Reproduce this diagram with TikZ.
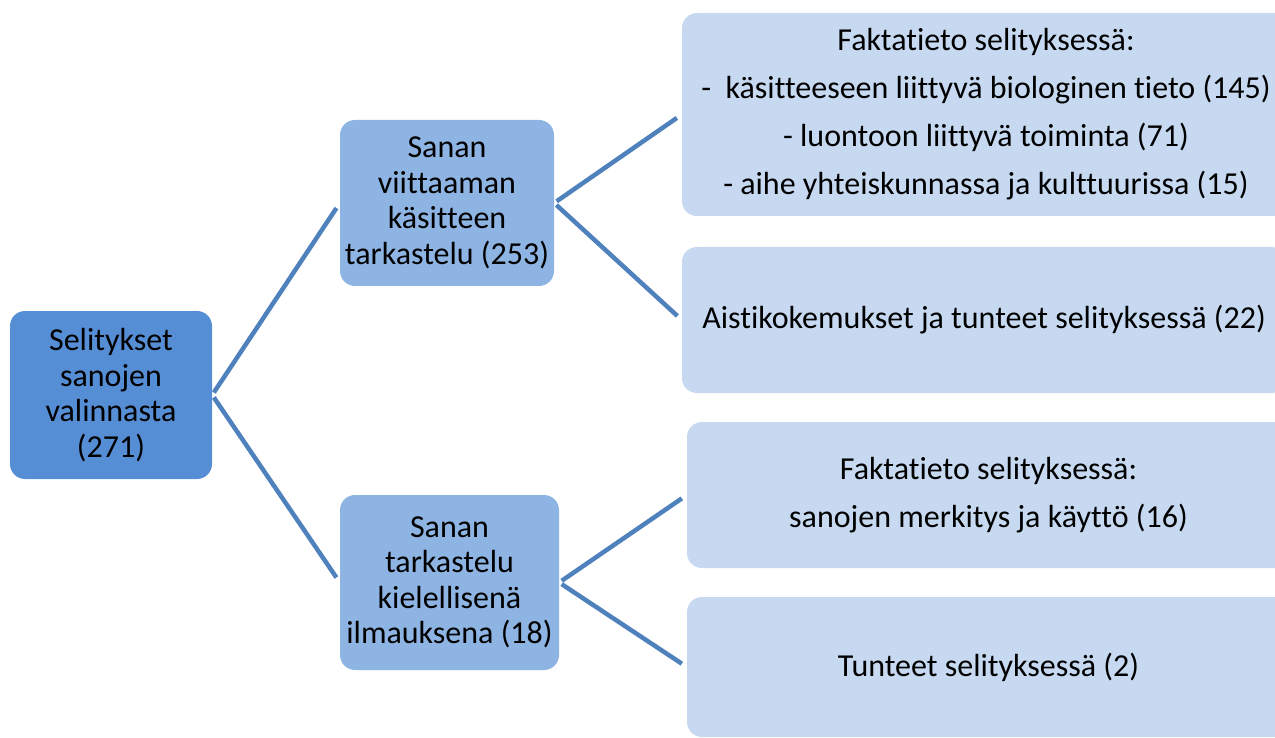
\documentclass[tikz,border=0pt]{standalone}
\usepackage{fontspec}
\setmainfont{Carlito}[Ligatures={NoCommon}]
\definecolor{rootc}{HTML}{558ED5}
\definecolor{midc}{HTML}{8EB4E3}
\definecolor{leafc}{HTML}{C6D9F1}
\definecolor{linec}{HTML}{4F81BD}
\tikzset{
  box/.style={rectangle, rounded corners=15pt, draw=none, align=center, inner sep=0pt,
    font=\fontsize{32}{35.5}\selectfont},
  rootbox/.style={box, fill=rootc},
  midbox/.style={box, fill=midc},
  leafbox/.style={box, fill=leafc, font=\fontsize{32}{48}\selectfont},
  conn/.style={draw=linec, line width=4.5pt, shorten <=3pt, shorten >=6pt}
}
\begin{document}
\begin{tikzpicture}[x=1pt,y=-1pt]
\useasboundingbox (0,0) rectangle (1275,738);
\clip (0,0) rectangle (1275,738);
\node[rootbox, minimum width=202pt, minimum height=168pt] (root) at (111,395)
  {Selitykset\\sanojen\\valinnasta\\(271)};
\node[midbox, minimum width=214pt, minimum height=166pt] (ma) at (447,203)
  {Sanan\\viittaaman\\käsitteen\\tarkastelu (253)};
\node[midbox, minimum width=219pt, minimum height=175pt] (mb) at (449.5,582.5)
  {Sanan\\tarkastelu\\kielellisenä\\ilmauksena (18)};
\node[leafbox, minimum width=608pt, minimum height=203pt] (l1) at (986,114.5)
  {Faktatieto selityksessä:\\-\ \ käsitteeseen liittyvä biologinen tieto (145)\\- luontoon liittyvä toiminta (71)\\- aihe yhteiskunnassa ja kulttuurissa (15)};
\node[leafbox, minimum width=604pt, minimum height=146pt] (l2) at (984,320)
  {Aistikokemukset ja tunteet selityksessä (22)};
\node[leafbox, minimum width=603pt, minimum height=146pt] (l3) at (988.5,495)
  {Faktatieto selityksessä:\\sanojen merkitys ja käyttö (16)};
\node[leafbox, minimum width=603pt, minimum height=140pt] (l4) at (988.5,667)
  {Tunteet selityksessä (2)};
\draw[conn] (root.east) -- (ma.west);
\draw[conn] (root.east) -- (mb.west);
\draw[conn] (ma.east) -- (l1.west);
\draw[conn] (ma.east) -- (l2.west);
\draw[conn] (mb.east) -- (l3.west);
\draw[conn] (mb.east) -- (l4.west);
\end{tikzpicture}
\end{document}
